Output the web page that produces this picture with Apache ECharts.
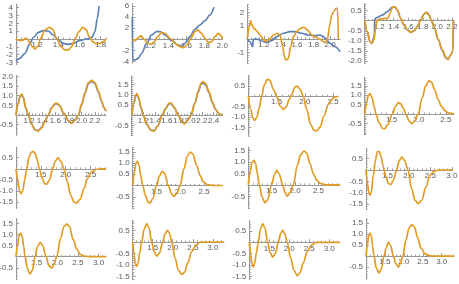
<!DOCTYPE html>
<html><head><meta charset="utf-8">
<script src="https://cdn.jsdelivr.net/npm/echarts@6/dist/echarts.min.js"></script>
<style>html,body{margin:0;padding:0;background:#fff}#c{width:459px;height:284px}</style>
</head><body><div id="c"></div>
<script>
// ---------------- data ----------------
const p11Blue = [[1.0,-2.8],[1.038,-2.47],[1.085,-1.83],[1.132,-0.55],[1.164,0.21],[1.211,0.85],[1.258,1.06],[1.305,1.02],[1.352,0.51],[1.40,-0.13],[1.447,-0.55],[1.494,-0.68],[1.541,-0.55],[1.604,-0.21],[1.667,0],[1.715,0.17],[1.746,0.94],[1.768,2.64],[1.784,4.21]];
const p11Orange = [[1.0,0],[1.022,-0.13],[1.044,-0.21],[1.069,-0.13],[1.091,0.09],[1.11,-0.04],[1.132,-0.55],[1.154,-0.98],[1.179,-1.28],[1.205,-0.98],[1.233,0.09],[1.274,1.15],[1.315,1.49],[1.346,1.23],[1.384,0.09],[1.425,-0.98],[1.462,-1.4],[1.494,-1.4],[1.526,-0.98],[1.557,0],[1.595,0.94],[1.629,1.49],[1.661,1.23],[1.692,0.3],[1.724,-0.34],[1.762,-0.64],[1.793,-0.55],[1.824,-0.34],[1.85,0]];
const p12Blue = [[1.0,3.95],[1.004,-3.71],[1.03,-3.71],[1.067,-3.41],[1.104,-2.51],[1.16,-0.72],[1.215,0.78],[1.27,1.38],[1.308,1.38],[1.363,0.78],[1.437,-0.24],[1.511,-1.02],[1.548,-1.2],[1.585,-0.72],[1.641,0.48],[1.696,1.8],[1.752,2.57],[1.807,3.35],[1.863,4.37],[1.907,5.75]];
const p12Orange = [[1.0,0],[1.03,-0.24],[1.059,0.18],[1.096,0.6],[1.134,0],[1.171,-0.72],[1.208,-0.9],[1.245,-0.42],[1.282,0.48],[1.326,1.26],[1.363,1.08],[1.419,0.18],[1.474,-0.72],[1.53,-1.32],[1.567,-1.5],[1.604,-1.02],[1.652,0.18],[1.696,1.38],[1.726,1.68],[1.77,1.08],[1.807,0.18],[1.845,-0.6],[1.882,-0.42],[1.919,0.48],[1.956,1.08],[1.978,0.78],[2.0,0]];
const p13Blue = [[1.0,0],[1.032,-0.2],[1.065,-0.58],[1.073,-0.03],[1.113,0],[1.174,-0.15],[1.234,-0.25],[1.295,-0.12],[1.355,0.18],[1.436,0.43],[1.516,0.55],[1.577,0.55],[1.657,0.43],[1.738,0.3],[1.818,0.25],[1.879,0.3],[1.919,0.18],[1.96,-0.08],[2.0,-0.33],[2.06,-0.58],[2.12,-0.95]];
const p13Orange = [[1.0,0],[1.024,0.93],[1.04,1.38],[1.056,1.05],[1.081,0.8],[1.113,0.63],[1.153,0.3],[1.194,-0.03],[1.226,-0.18],[1.266,-0.03],[1.315,0.3],[1.363,0.43],[1.395,0.3],[1.428,-0.58],[1.448,-1.33],[1.468,-1.58],[1.496,-1.45],[1.524,-0.58],[1.557,0.18],[1.597,0.55],[1.645,0.8],[1.686,0.88],[1.726,0.68],[1.778,0.3],[1.831,0.13],[1.879,-0.03],[1.919,-0.2],[1.952,-0.28],[1.972,0.05],[1.992,0.93],[2.02,1.8],[2.048,2.1],[2.073,2.3],[2.09,2.3],[2.1,0]];
const p14Blue = [[1.0,0],[1.036,-0.55],[1.073,-1.04],[1.1,-1.12],[1.128,-0.8],[1.135,-0.6],[1.137,0.08],[1.174,0.17],[1.243,0.28],[1.312,0.45],[1.38,0.66],[1.413,0.69],[1.45,0.53],[1.495,0.12],[1.541,-0.21],[1.587,-0.46],[1.633,-0.58],[1.679,-0.5],[1.725,-0.3],[1.771,0.03],[1.817,0.33],[1.854,0.41],[1.886,0.28],[1.918,0],[1.964,-0.38],[2.01,-0.93],[2.069,-1.45],[2.115,-1.82],[2.147,-1.92],[2.184,-1.7],[2.215,-1.5],[2.222,0]];
const p14Orange = [[1.0,0],[1.036,-0.55],[1.073,-1.04],[1.1,-1.12],[1.128,-0.93],[1.151,-0.38],[1.174,0.03],[1.22,0.08],[1.289,0.12],[1.321,0.12],[1.348,0.36],[1.38,0.66],[1.413,0.69],[1.45,0.53],[1.495,0.12],[1.541,-0.21],[1.587,-0.46],[1.633,-0.58],[1.679,-0.5],[1.725,-0.3],[1.771,0.03],[1.817,0.33],[1.854,0.41],[1.886,0.28],[1.918,0],[1.964,-0.38],[2.01,-0.93],[2.069,-1.45],[2.115,-1.82],[2.147,-1.92],[2.184,-1.7],[2.215,-1.5],[2.222,0]];
const p21Blue = [[1.0,0],[1.036,0.62],[1.061,0.95],[1.086,1.04],[1.112,0.9],[1.147,0.37],[1.188,0],[1.238,-0.47],[1.289,-0.76],[1.34,-0.81],[1.391,-0.64],[1.441,-0.3],[1.492,0],[1.543,0.37],[1.594,0.58],[1.629,0.58],[1.67,0.45],[1.721,0.11],[1.746,0],[1.797,-0.3],[1.847,-0.42],[1.898,-0.27],[1.949,0],[2.0,0.53],[2.05,1.12],[2.101,1.62],[2.152,1.74],[2.202,1.62],[2.253,1.2],[2.304,0.7],[2.339,0.37],[2.37,0.2]];
const p21Orange = [[1.0,0],[1.036,0.64],[1.061,0.98],[1.086,1.07],[1.112,0.93],[1.147,0.38],[1.188,0],[1.238,-0.48],[1.289,-0.78],[1.34,-0.83],[1.391,-0.66],[1.441,-0.31],[1.492,0],[1.543,0.38],[1.594,0.6],[1.629,0.6],[1.67,0.47],[1.721,0.12],[1.746,0],[1.797,-0.31],[1.847,-0.43],[1.898,-0.28],[1.949,0],[2.0,0.55],[2.05,1.16],[2.101,1.67],[2.152,1.79],[2.202,1.67],[2.253,1.24],[2.304,0.72],[2.339,0.38],[2.37,0.21]];
const p22Blue = [[1.0,0],[1.039,0.59],[1.068,0.96],[1.09,1.03],[1.119,0.84],[1.159,0.36],[1.199,0],[1.256,-0.44],[1.33,-0.73],[1.387,-0.76],[1.444,-0.52],[1.524,0],[1.581,0.33],[1.638,0.56],[1.672,0.58],[1.729,0.36],[1.797,0],[1.854,-0.31],[1.9,-0.41],[1.957,-0.24],[2.014,0],[2.082,0.59],[2.139,1.15],[2.185,1.52],[2.219,1.59],[2.265,1.5],[2.321,1.12],[2.378,0.64],[2.435,0.28],[2.492,0.07],[2.549,0]];
const p22Orange = [[1.0,0],[1.039,0.61],[1.068,0.99],[1.09,1.06],[1.119,0.86],[1.159,0.37],[1.199,0],[1.256,-0.45],[1.33,-0.75],[1.387,-0.78],[1.444,-0.53],[1.524,0],[1.581,0.34],[1.638,0.58],[1.672,0.6],[1.729,0.37],[1.797,0],[1.854,-0.32],[1.9,-0.42],[1.957,-0.25],[2.014,0],[2.082,0.61],[2.139,1.19],[2.185,1.57],[2.219,1.65],[2.265,1.55],[2.321,1.16],[2.378,0.66],[2.435,0.29],[2.492,0.07],[2.549,0]];
const p23Orange = [[1.0,0],[1.042,-0.63],[1.077,-1.03],[1.113,-1.16],[1.148,-1.03],[1.195,-0.55],[1.236,0],[1.283,0.54],[1.336,0.81],[1.383,0.76],[1.442,0.33],[1.501,0],[1.56,-0.47],[1.619,-0.63],[1.666,-0.52],[1.725,-0.15],[1.766,0.09],[1.825,0.44],[1.866,0.49],[1.913,0.33],[1.972,0],[2.031,-0.63],[2.102,-1.35],[2.161,-1.64],[2.208,-1.67],[2.267,-1.48],[2.338,-0.95],[2.414,-0.39],[2.473,-0.15],[2.532,-0.04],[2.591,0]];
const p24Orange = [[1.0,0],[1.036,0.6],[1.067,1.0],[1.098,1.08],[1.135,0.87],[1.172,0.42],[1.209,0],[1.264,-0.46],[1.326,-0.76],[1.369,-0.78],[1.43,-0.55],[1.511,0],[1.572,0.42],[1.622,0.6],[1.665,0.55],[1.714,0.3],[1.763,0],[1.819,-0.37],[1.868,-0.51],[1.924,-0.37],[1.985,0],[2.065,0.87],[2.127,1.49],[2.188,1.77],[2.231,1.7],[2.293,1.3],[2.355,0.78],[2.416,0.42],[2.478,0.19],[2.539,0.07],[2.601,0.02],[2.651,0]];
const p31Orange = [[1.0,0],[1.034,-0.51],[1.067,-0.96],[1.1,-1.11],[1.134,-1.0],[1.174,-0.51],[1.215,0],[1.262,0.53],[1.315,0.75],[1.349,0.78],[1.389,0.68],[1.429,0.38],[1.47,0],[1.523,-0.41],[1.577,-0.66],[1.617,-0.69],[1.671,-0.51],[1.738,0],[1.791,0.35],[1.845,0.49],[1.899,0.34],[1.966,0],[2.033,-0.59],[2.1,-1.19],[2.167,-1.49],[2.221,-1.53],[2.288,-1.37],[2.368,-0.89],[2.435,-0.44],[2.522,-0.14],[2.623,-0.02],[2.723,0],[2.811,0]];
const p32Orange = [[1.0,0],[1.035,0.6],[1.07,1.01],[1.098,1.07],[1.133,0.9],[1.168,0.45],[1.21,0],[1.266,-0.44],[1.322,-0.73],[1.364,-0.78],[1.42,-0.59],[1.504,0],[1.56,0.42],[1.623,0.63],[1.672,0.53],[1.749,0],[1.812,-0.36],[1.868,-0.48],[1.924,-0.36],[1.994,0],[2.078,0.75],[2.148,1.31],[2.204,1.49],[2.26,1.41],[2.344,0.9],[2.414,0.45],[2.484,0.16],[2.568,0.04],[2.694,0],[2.89,0]];
const p33Orange = [[1.0,0],[1.036,0.56],[1.079,0.96],[1.122,1.07],[1.157,0.92],[1.193,0.49],[1.236,0],[1.293,-0.53],[1.357,-0.78],[1.407,-0.67],[1.5,0],[1.556,0.41],[1.606,0.63],[1.656,0.49],[1.734,0],[1.784,-0.34],[1.834,-0.49],[1.891,-0.34],[1.962,0],[2.048,0.85],[2.119,1.31],[2.191,1.47],[2.248,1.38],[2.319,0.92],[2.39,0.49],[2.462,0.2],[2.547,0.05],[2.675,0],[2.96,0]];
const p34Orange = [[1.0,0],[1.031,-0.53],[1.062,-0.96],[1.093,-1.11],[1.124,-0.96],[1.171,-0.23],[1.218,0.42],[1.264,0.79],[1.303,0.82],[1.342,0.64],[1.404,0.13],[1.466,-0.31],[1.528,-0.6],[1.575,-0.64],[1.637,-0.45],[1.715,0],[1.777,0.42],[1.839,0.57],[1.901,0.42],[1.979,0],[2.064,-0.82],[2.142,-1.33],[2.219,-1.47],[2.297,-1.33],[2.398,-0.74],[2.492,-0.23],[2.585,-0.06],[2.686,0],[3.02,0]];
const p41Orange = [[1.0,0],[1.032,0.47],[1.073,0.95],[1.113,1.07],[1.153,0.89],[1.186,0.47],[1.218,0],[1.274,-0.51],[1.339,-0.78],[1.395,-0.62],[1.46,0],[1.525,0.47],[1.589,0.65],[1.646,0.51],[1.727,0],[1.799,-0.41],[1.864,-0.51],[1.92,-0.36],[1.985,0],[2.082,0.84],[2.162,1.37],[2.227,1.47],[2.291,1.37],[2.388,0.77],[2.469,0.35],[2.566,0.09],[2.671,0.02],[2.792,0],[3.18,0]];
const p42Orange = [[1.0,0],[1.033,-0.55],[1.067,-0.94],[1.1,-1.06],[1.133,-0.91],[1.175,-0.48],[1.225,0],[1.283,0.54],[1.35,0.8],[1.408,0.61],[1.475,0],[1.533,-0.41],[1.6,-0.62],[1.667,-0.48],[1.75,0],[1.808,0.36],[1.867,0.51],[1.917,0.39],[1.975,0],[2.058,-0.7],[2.142,-1.23],[2.225,-1.42],[2.292,-1.32],[2.375,-0.91],[2.475,-0.41],[2.583,-0.12],[2.683,-0.01],[2.808,0],[3.28,0]];
const p43Orange = [[1.0,0],[1.034,-0.54],[1.067,-0.94],[1.1,-1.09],[1.134,-0.94],[1.176,-0.47],[1.226,0],[1.276,0.56],[1.334,0.82],[1.393,0.63],[1.459,0],[1.518,-0.44],[1.584,-0.65],[1.651,-0.5],[1.726,0],[1.784,0.38],[1.834,0.53],[1.884,0.38],[1.951,0],[2.034,-0.69],[2.118,-1.24],[2.201,-1.47],[2.268,-1.35],[2.351,-0.91],[2.451,-0.4],[2.559,-0.12],[2.668,-0.01],[2.809,0],[3.27,0]];
const p44Orange = [[1.0,0],[1.035,0.52],[1.07,0.93],[1.106,1.05],[1.141,0.93],[1.176,0.45],[1.211,0],[1.273,-0.54],[1.343,-0.77],[1.405,-0.58],[1.476,0],[1.529,0.37],[1.59,0.63],[1.652,0.48],[1.722,0],[1.793,-0.34],[1.855,-0.49],[1.908,-0.34],[1.97,0],[2.058,0.75],[2.137,1.28],[2.208,1.43],[2.278,1.33],[2.366,0.83],[2.454,0.37],[2.56,0.11],[2.674,0.02],[2.824,0],[3.325,0]];

// tick labels
const xT02a = [1.2,1.4,1.6,1.8];
const xT02b = [1.2,1.4,1.6,1.8,2.0];
const xT02c = [1.2,1.4,1.6,1.8,2.0,2.2];
const xT02d = [1.2,1.4,1.6,1.8,2.0,2.2,2.4];
const xT05a = [1.5,2.0,2.5];
const xT05b = [1.5,2.0,2.5,3.0];
const yT11 = [-3,-2,-1,1,2,3,4];
const yT12 = [-4,-2,2,4,6];
const yT13 = [-1,1,2];
const yT14 = [-2.0,-1.5,-1.0,-0.5,0.5];
const yT21 = [-0.5,0.5,1.0,1.5,2.0];
const yTpos = [-0.5,0.5,1.0,1.5];
const yTneg = [-1.5,-1.0,-0.5,0.5];

// panels: series + axis ranges
const panels = [
 {blue:p11Blue, orange:p11Orange, xmax:1.85,  ymin:-3.2, ymax:4.45, xt:xT02a, yt:yT11, xs:0.2, ys:1,   yd:0},
 {blue:p12Blue, orange:p12Orange, xmax:2.0,   ymin:-4.3, ymax:6.4,  xt:xT02b, yt:yT12, xs:0.2, ys:2,   yd:0},
 {blue:p13Blue, orange:p13Orange, xmax:2.12,  ymin:-1.8, ymax:2.6,  xt:xT02b, yt:yT13, xs:0.2, ys:1,   yd:0},
 {blue:p14Blue, orange:p14Orange, xmax:2.23,  ymin:-2.1, ymax:0.85, xt:xT02c, yt:yT14, xs:0.2, ys:0.5, yd:1},
 {blue:p21Blue, orange:p21Orange, xmax:2.37,  ymin:-1.05,ymax:2.05, xt:xT02c, yt:yT21, xs:0.2, ys:0.5, yd:1},
 {blue:p22Blue, orange:p22Orange, xmax:2.55,  ymin:-1.0, ymax:1.9,  xt:xT02d, yt:yTpos,xs:0.2, ys:0.5, yd:1},
 {blue:null, orange:p23Orange, xmax:2.59,  ymin:-1.9, ymax:1.0,  xt:xT05a, yt:yTneg,xs:0.5, ys:0.5, yd:1},
 {blue:null, orange:p24Orange, xmax:2.65,  ymin:-1.1, ymax:1.95, xt:xT05a, yt:yTpos,xs:0.5, ys:0.5, yd:1},
 {blue:null, orange:p31Orange, xmax:2.81,  ymin:-1.78,ymax:0.97, xt:xT05a, yt:yTneg,xs:0.5, ys:0.5, yd:1},
 {blue:null, orange:p32Orange, xmax:2.89,  ymin:-1.02,ymax:1.7,  xt:xT05a, yt:yTpos,xs:0.5, ys:0.5, yd:1},
 {blue:null, orange:p33Orange, xmax:2.96,  ymin:-1.03,ymax:1.65, xt:xT05a, yt:yTpos,xs:0.5, ys:0.5, yd:1},
 {blue:null, orange:p34Orange, xmax:3.02,  ymin:-1.72,ymax:0.95, xt:xT05b, yt:yTneg,xs:0.5, ys:0.5, yd:1},
 {blue:null, orange:p41Orange, xmax:3.18,  ymin:-1.02,ymax:1.72, xt:xT05b, yt:yTpos,xs:0.5, ys:0.5, yd:1},
 {blue:null, orange:p42Orange, xmax:3.28,  ymin:-1.65,ymax:0.95, xt:xT05b, yt:yTneg,xs:0.5, ys:0.5, yd:1},
 {blue:null, orange:p43Orange, xmax:3.27,  ymin:-1.65,ymax:0.97, xt:xT05b, yt:yTneg,xs:0.5, ys:0.5, yd:1},
 {blue:null, orange:p44Orange, xmax:3.325, ymin:-1.05,ymax:1.72, xt:xT05b, yt:yTpos,xs:0.5, ys:0.5, yd:1}
];

// layout: [left px of y-axis, width px, y px of zero line, px per y unit]
const layout = [
 [16,90,39,7.83],[132.3,90,39.3,5.57],[247.3,92.7,39,13.33],[364.7,89.3,20.7,20.17],
 [16,90,115,19.33],[131.7,90.6,115.2,20.33],[248.3,90,96.2,20.83],[364.7,89.3,114,18.83],
 [16,90,168.8,22.33],[132.7,90,185.5,22.5],[248.3,91.7,184.8,23],[366,86.7,170,22.83],
 [16,90,256.7,22.17],[132.7,91.3,242,23],[249.3,90.7,242.3,22.67],[366,88,256.2,22]
];

const BLUE = '#5e81b5', ORANGE = '#e19c24';
const AX = '#9a9a9a', LAB = '#5a5a5a';
const FONT = 'Liberation Sans, Arial, sans-serif';
const FS = 8;
const minorOf = {0.2:0.05, 0.5:0.1, 1:0.2, 2:0.5};
function minors(lo, hi, step, exclude) {
  const out = [];
  const m = minorOf[step];
  for (let k = Math.ceil(lo / m - 1e-9); k * m <= hi + 1e-9; k++) {
    const v = +(k * m).toFixed(4);
    if (Math.abs(v - exclude) < 1e-9) continue;
    out.push(v);
  }
  return out;
}

const grid = [], xAxis = [], yAxis = [], series = [];
panels.forEach((p, i) => {
  const [l, w, zy, py] = layout[i];
  const top = zy - p.ymax * py, h = (p.ymax - p.ymin) * py;
  grid.push({left: l, top: top, width: w, height: h, containLabel: false, outerBoundsMode: 'none'});
  const fmtX = v => v.toFixed(1);
  const fmtY = v => p.yd === 0 ? String(Math.round(v)) : v.toFixed(1);
  // main x axis, moved up from the grid bottom to the zero line
  xAxis.push({type:'value', gridIndex:i, min:1, max:p.xmax, position:'bottom', offset: p.ymin * py,
    axisLine:{show:true, onZero:false, lineStyle:{color:AX, width:1}},
    axisTick:{show:true, inside:true, length:3, customValues:p.xt, lineStyle:{color:AX, width:1}},
    axisLabel:{show:true, customValues:p.xt, margin:2, fontSize:FS, color:LAB, fontFamily:FONT,
      showMinLabel:true, showMaxLabel:true, hideOverlap:false, formatter:fmtX},
    splitLine:{show:false}});
  // minor ticks, moved down from the grid top to the zero line
  xAxis.push({type:'value', gridIndex:i, min:1, max:p.xmax, position:'top', offset: -p.ymax * py,
    axisLine:{show:false, onZero:false},
    axisTick:{show:true, inside:false, length:1.5, customValues:minors(1, p.xmax, p.xs, 1), lineStyle:{color:AX, width:1}},
    axisLabel:{show:false}, splitLine:{show:false}});
  yAxis.push({type:'value', gridIndex:i, min:p.ymin, max:p.ymax, position:'left',
    axisLine:{show:true, onZero:false, lineStyle:{color:AX, width:1}},
    axisTick:{show:true, inside:true, length:3, customValues:p.yt, lineStyle:{color:AX, width:1}},
    axisLabel:{show:true, customValues:p.yt, margin:3, fontSize:FS, color:LAB, fontFamily:FONT,
      showMinLabel:true, showMaxLabel:true, hideOverlap:false, formatter:fmtY},
    splitLine:{show:false}});
  yAxis.push({type:'value', gridIndex:i, min:p.ymin, max:p.ymax, position:'right', offset:-w,
    axisLine:{show:false, onZero:false},
    axisTick:{show:true, inside:false, length:1.5, customValues:minors(p.ymin, p.ymax, p.ys, 0), lineStyle:{color:AX, width:1}},
    axisLabel:{show:false}, splitLine:{show:false}});
  const base = {type:'line', xAxisIndex:2*i, yAxisIndex:2*i, showSymbol:false, symbol:'none',
    smooth:0.35, smoothMonotone:'x', silent:true, animation:false, clip:true};
  if (p.blue) series.push(Object.assign({}, base, {data:p.blue, lineStyle:{color:BLUE, width:1.7}, itemStyle:{color:BLUE}}));
  series.push(Object.assign({}, base, {data:p.orange, lineStyle:{color:ORANGE, width:1.7}, itemStyle:{color:ORANGE}}));
});

const chart = echarts.init(document.getElementById('c'), null, {renderer:'canvas'});
chart.setOption({animation:false, backgroundColor:'#fff', grid, xAxis, yAxis, series});
</script></body></html>
